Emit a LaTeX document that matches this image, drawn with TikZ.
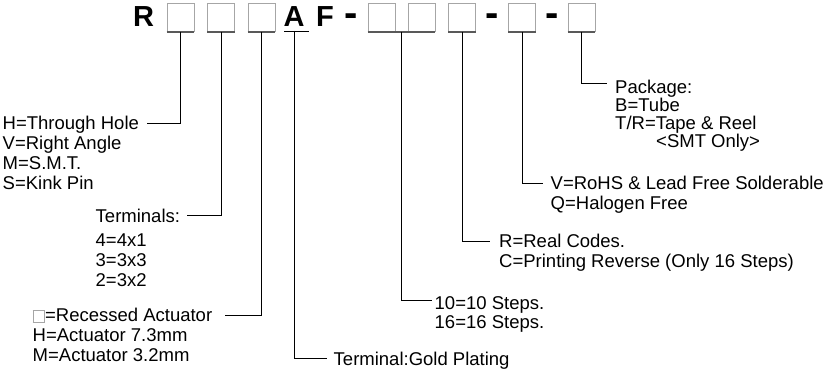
\documentclass[tikz,border=0pt]{standalone}
\usepackage{fontspec}
\setmainfont{Liberation Sans}
\usetikzlibrary{calc}
\begin{document}
\begin{tikzpicture}[x=1pt,y=-1pt,
  slot/.style={draw=gray!70, line width=0.9pt, minimum width=27pt, minimum height=28pt, inner sep=0pt, anchor=north west},
  shade/.style={draw=black!65, line width=1.6pt},
  lbl/.style={anchor=base west, inner sep=0pt, align=left, font=\fontsize{18.5}{20}\selectfont},
  code/.style={anchor=base west, inner sep=0pt, font=\fontsize{29}{30}\selectfont\bfseries},
  hyph/.style={anchor=base, inner sep=1pt, text height=18pt, text depth=2pt, font=\fontsize{40}{40}\selectfont\bfseries},
  lead/.style={line width=0.9pt, black}]
\useasboundingbox (0,0) rectangle (828,374);
% code letters
\node[code] (cR) at (133,26.7) {R};
\node[code] (cA) at (283.5,26.7) {A};
\node[code] (cF) at (316,26.7) {F};
\node[hyph] (d1) at (351.5,26.7) {-};
\node[hyph] (d2) at (492.5,26.7) {-};
\node[hyph] (d3) at (552.5,26.7) {-};
% slots
\node[slot] (b1) at (166.5,3) {};
\node[slot] (b2) at (207,3) {};
\node[slot] (b3) at (247.5,3) {};
\node[slot] (b4) at (367.5,3) {};
\node[slot] (b5) at (407.5,3) {};
\node[slot] (b6) at (448,3) {};
\node[slot] (b7) at (508,3) {};
\node[slot] (b8) at (567.5,3) {};
\foreach \b in {b1,b2,b3,b4,b5,b6,b7,b8}
  \draw[shade] (\b.south west) -- (\b.south east);
% underline of A
\coordinate (ua) at (284,31);
\coordinate (ub) at (309,31);
\draw[lead] (ua) -- (ub);
\coordinate (am) at (294.5,31);
% labels (anchored at the baseline of their last line)
\node[lbl] (h1) at (2.5,190) {H=Through Hole\\V=Right Angle\\M=S.M.T.\\S=Kink Pin};
\node[lbl] (t1) at (95.5,286.7) {Terminals:\\[4pt]4=4x1\\3=3x3\\2=3x2};
\node[lbl] (r1) at (32.5,361.7) {{\setlength\fboxsep{0pt}\setlength\fboxrule{0.7pt}\textcolor{gray!70}{\fbox{\rule{0pt}{11pt}\hspace{11pt}}}}=Recessed Actuator\\H=Actuator 7.3mm\\M=Actuator 3.2mm};
\node[lbl] (g1) at (333.5,365) {Terminal:Gold Plating};
\node[lbl] (s1) at (434.5,329) {10=10 Steps.\\16=16 Steps.};
\node[lbl] (c1) at (499,268) {R=Real Codes.\\C=Printing Reverse (Only 16 Steps)};
\node[lbl] (v1) at (550.5,210) {V=RoHS \& Lead Free Solderable\\Q=Halogen Free};
\node[lbl, font=\fontsize{18.5}{18.2}\selectfont] (p1) at (615,147.9) {Package:\\B=Tube\\T/R=Tape \& Reel\\\hspace{41pt}<SMT Only>};
% connector ends
\coordinate (e1) at (147,123.3);
\coordinate (e2) at (186.7,215);
\coordinate (e3) at (225,315);
\coordinate (eA) at (326.7,358.3);
\coordinate (e45) at (431.7,300);
\coordinate (e6) at (490,241.7);
\coordinate (e7) at (543,183.3);
\coordinate (e8) at (606.7,83.3);
% connectors
\draw[lead] (b1.south) |- (e1);
\draw[lead] (b2.south) |- (e2);
\draw[lead] (b3.south) |- (e3);
\draw[lead] (am) |- (eA);
\draw[shade] (b4.south east) -- (b5.south west);
\coordinate (j45) at ($(b4.south east)!0.5!(b5.south west)$);
\draw[lead] (j45) |- (e45);
\draw[lead] (b6.south) |- (e6);
\draw[lead] (b7.south) |- (e7);
\draw[lead] (b8.south) |- (e8);
\end{tikzpicture}
\end{document}
